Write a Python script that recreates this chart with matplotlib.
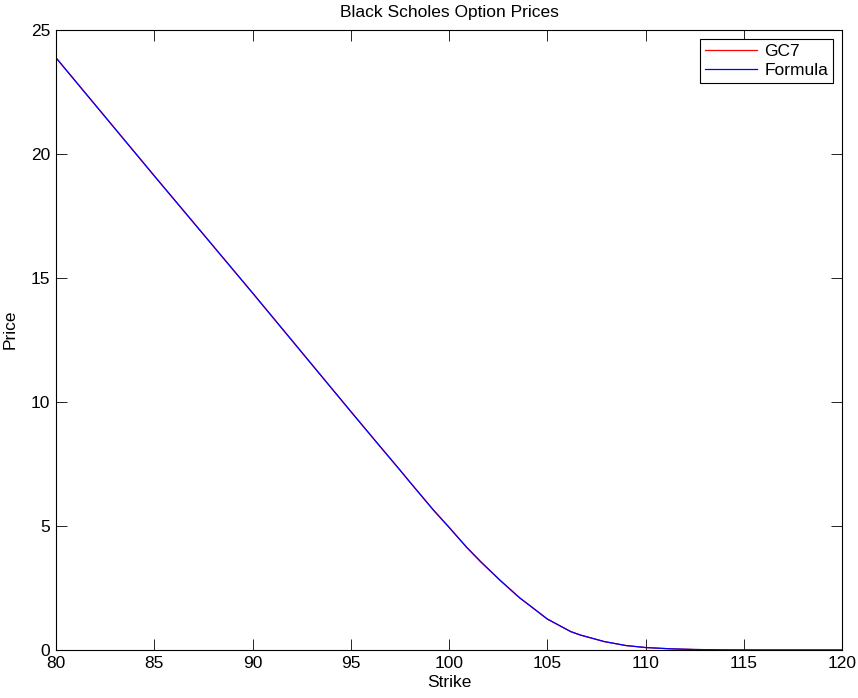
import matplotlib.pyplot as plt

plt.rcParams['font.family'] = ['Liberation Sans', 'DejaVu Sans']

# strike grid and prices (both series overlap)
strikes = [80, 85, 87.3, 90, 95, 96.5, 97.5, 98, 99.2, 100, 100.9, 101.6, 102.6, 103.6, 104.1,
           105, 106.2, 106.7, 107.9, 109, 110, 111.2, 112.5, 114, 116, 120]
gc7 = [23.88, 19.12, 16.95, 14.4, 9.62, 8.2, 7.26, 6.78, 5.65, 4.95, 4.14, 3.57, 2.81, 2.1, 1.8,
       1.25, 0.74, 0.6, 0.34, 0.18, 0.1, 0.05, 0.02, 0.005, 0.0, 0.0]
formula = list(gc7)

fig = plt.figure(figsize=(8.58, 6.98), dpi=100)
ax = fig.add_axes([56 / 858, 48 / 698, 786 / 858, 620 / 698])

ax.plot(strikes, gc7, color='red', lw=0.9, label='GC7')
ax.plot(strikes, formula, color='blue', lw=0.9, label='Formula')

ax.set_xlim(80, 120)
ax.set_ylim(0, 25)
ax.set_xticks(range(80, 121, 5))
ax.set_yticks(range(0, 26, 5))
ax.tick_params(direction='in', length=8, width=0.6, top=True, right=True, labelsize=12.5, pad=4)
for s in ax.spines.values():
    s.set_linewidth(0.8)

ax.set_title('Black Scholes Option Prices', fontsize=12.5, pad=9)
ax.set_xlabel('Strike', fontsize=12.5, labelpad=3)
ax.set_ylabel('Price', fontsize=12.5)
ax.yaxis.set_label_coords(-0.049, 0.518)

leg = ax.legend(loc='upper right', fontsize=12.5, fancybox=False, edgecolor='black', framealpha=1,
                handlelength=3.0, handletextpad=0.4, borderaxespad=0.5, borderpad=0.3, labelspacing=0.2)
leg.get_frame().set_linewidth(0.8)

plt.savefig('out.png', dpi=100)
